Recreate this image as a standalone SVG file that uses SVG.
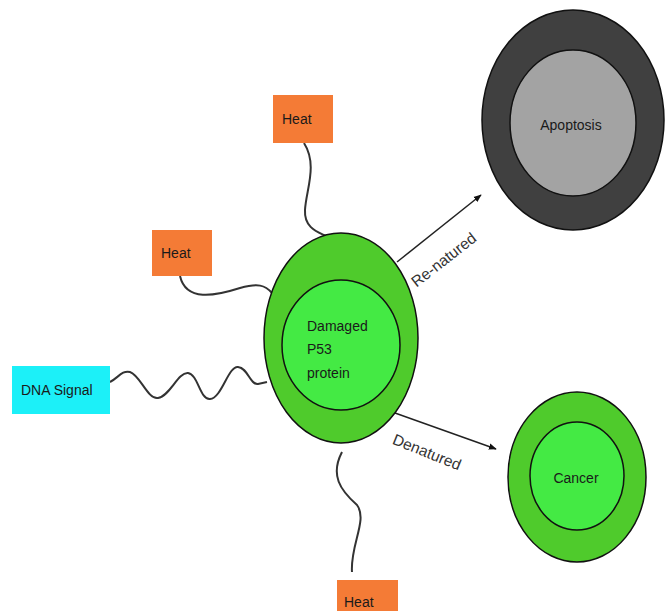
<svg xmlns="http://www.w3.org/2000/svg" width="665" height="611" viewBox="0 0 665 611">
<style>
text{font-family:"Liberation Sans",Arial,sans-serif;font-size:14px;fill:#1a1a1a}
.lbl{font-size:15.5px;fill:#333}
.wire{fill:none;stroke:#333;stroke-width:2}
.arr{fill:none;stroke:#222;stroke-width:1.5}
.heat{fill:#f47b36}
.og{fill:#4fcb2c;stroke:#111;stroke-width:1.5}
.ig{fill:#44ea44;stroke:#111;stroke-width:1.5}
</style>
<defs>
<marker id="ah" viewBox="0 0 10 10" refX="9" refY="5" markerWidth="8" markerHeight="8" orient="auto" markerUnits="userSpaceOnUse">
<path d="M0,1 L10,5 L0,9 Z" fill="#111"/>
</marker>
</defs>
<g id="connectors">
<path class="wire" d="M304,143 C318,165 306,190 305,210 C304,228 318,232 326,236"/>
<path class="wire" d="M180,276 C186,302 215,296 240,288 C258,283 265,285 272,293"/>
<path class="wire" d="M110,382 C118,378 122,370 130,372 C140,375 148,400 158,398 C170,396 178,372 188,373 C198,374 200,400 210,399 C222,398 228,366 238,367 C248,368 250,385 258,384 L267,382"/>
<path class="wire" d="M342,452 C330,475 340,490 357,505 C368,520 350,545 352,572"/>
<path class="arr" d="M397,262 L481,195" marker-end="url(#ah)"/>
<path class="arr" d="M395,413 L496,449" marker-end="url(#ah)"/>
<text class="lbl" transform="translate(447,264) rotate(-38)" text-anchor="middle">Re-natured</text>
<text class="lbl" transform="translate(425,457) rotate(22)" text-anchor="middle">Denatured</text>
</g>
<g id="heat-top"><rect class="heat" x="273" y="95" width="60" height="48"/><text x="282" y="124">Heat</text></g>
<g id="heat-left"><rect class="heat" x="152" y="230" width="60" height="46"/><text x="161" y="258">Heat</text></g>
<g id="dna-signal"><rect fill="#1cf0f8" x="12" y="366" width="98" height="48"/><text x="21" y="395">DNA Signal</text></g>
<g id="heat-bottom"><rect class="heat" x="337" y="580" width="61" height="46"/><text x="344" y="607">Heat</text></g>
<g id="p53">
<ellipse class="og" cx="341" cy="338" rx="77" ry="105"/>
<ellipse class="ig" cx="341" cy="345" rx="59" ry="65"/>
<text x="307" y="331">Damaged</text>
<text x="307" y="354">P53</text>
<text x="307" y="378">protein</text>
</g>
<g id="apoptosis">
<ellipse fill="#404040" stroke="#111" stroke-width="1.5" cx="573" cy="120" rx="91" ry="110"/>
<ellipse fill="#a3a3a3" stroke="#111" stroke-width="1.5" cx="573" cy="123" rx="63" ry="73"/>
<text x="571" y="130" text-anchor="middle" fill="#333">Apoptosis</text>
</g>
<g id="cancer">
<ellipse class="og" cx="577" cy="477" rx="69" ry="85"/>
<ellipse class="ig" cx="577" cy="476" rx="47" ry="54"/>
<text x="576" y="483" text-anchor="middle">Cancer</text>
</g>
</svg>
